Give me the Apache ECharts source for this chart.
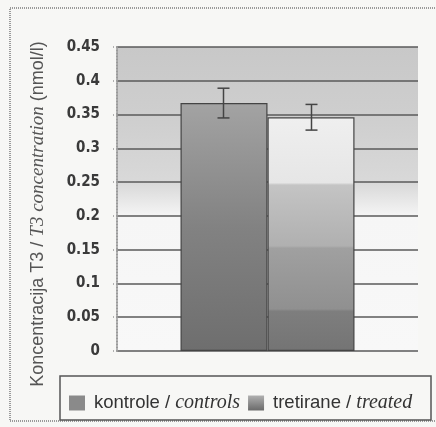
<!DOCTYPE html>
<html>
<head>
<meta charset="utf-8">
<script src="https://cdn.jsdelivr.net/npm/echarts@6/dist/echarts.min.js"></script>
<style>html,body{margin:0;padding:0;background:#f7f7f5;}#c{width:436px;height:427px;}</style>
</head>
<body>
<div id="c"></div>
<script>
const categories = ['T3'];
const seriesNames = ['kontrole', 'tretirane'];
const seriesNamesEn = ['controls', 'treated'];
const meanValues = [0.367, 0.346];
const errorValues = [0.022, 0.019];
const yTicks = [0, 0.05, 0.1, 0.15, 0.2, 0.25, 0.3, 0.35, 0.4, 0.45];

const chart = echarts.init(document.getElementById('c'));
const BAR_W = 87;

const controlsFill = new echarts.graphic.LinearGradient(0, 0, 0, 1, [
  {offset: 0, color: '#a3a3a3'}, {offset: 0.5, color: '#828282'}, {offset: 1, color: '#6e6e6e'}
]);
const treatedFill = new echarts.graphic.LinearGradient(0, 0, 0, 1, [
  {offset: 0, color: '#efefef'}, {offset: 0.28, color: '#e6e6e6'}, {offset: 0.29, color: '#c4c4c4'},
  {offset: 0.55, color: '#b0b0b0'}, {offset: 0.56, color: '#a0a0a0'}, {offset: 0.82, color: '#909090'},
  {offset: 0.83, color: '#7e7e7e'}, {offset: 1, color: '#747474'}
]);
const fills = [controlsFill, treatedFill];
const legendFills = ['#8a8a8a', new echarts.graphic.LinearGradient(0, 0, 0, 1, [
  {offset: 0, color: '#b0b0b0'}, {offset: 1, color: '#6a6a6a'}
])];

const barSeries = seriesNames.map((n, i) => ({
  name: n,
  type: 'bar',
  data: [meanValues[i]],
  barWidth: BAR_W,
  barGap: '0%',
  itemStyle: {color: fills[i], borderColor: '#444', borderWidth: 1.2},
  z: 3
}));

const errData = meanValues.map((m, i) => [0, m, errorValues[i], i]);

const option = {
  animation: false,
  backgroundColor: '#f7f7f5',
  grid: {
    left: 117, right: 18, top: 47, bottom: 76,
    show: true,
    borderWidth: 0,
    backgroundColor: new echarts.graphic.LinearGradient(0, 0, 0, 1, [
      {offset: 0, color: '#c8c8c8'}, {offset: 0.25, color: '#cfcfcf'},
      {offset: 0.45, color: '#d9d9d9'}, {offset: 0.5, color: '#e6e6e6'},
      {offset: 0.56, color: '#f6f6f6'}, {offset: 1, color: '#f8f8f8'}
    ])
  },
  xAxis: {
    type: 'category',
    data: categories,
    axisLine: {show: false},
    axisTick: {show: false},
    axisLabel: {show: false}
  },
  yAxis: {
    type: 'value',
    min: 0, max: 0.45, interval: 0.05,
    axisLine: {show: true, lineStyle: {color: '#9a9a9a', type: [1, 2], width: 2}},
    axisTick: {show: true, length: 5, lineStyle: {color: '#9a9a9a', type: [1, 2], width: 1.5}},
    axisLabel: {
      margin: 17,
      fontFamily: 'Liberation Sans Narrow, DejaVu Sans Condensed, sans-serif',
      fontWeight: 'bold', fontSize: 15, color: '#3a3a3a',
      formatter: v => { const t = yTicks.find(x => Math.abs(x - v) < 1e-9); return t === undefined ? '' : String(t); }
    },
    splitLine: {show: true, lineStyle: {color: '#5a5a5a', width: 1.5}}
  },
  legend: {
    left: 64, top: 388,
    itemWidth: 16, itemHeight: 15,
    itemGap: 8,
    icon: 'rect',
    data: seriesNames.map((n, i) => ({name: n, itemStyle: {color: legendFills[i], borderWidth: 0}})),
    formatter: name => {
      const i = seriesNames.indexOf(name);
      return '{sp| }{n|' + name + ' / }{i|' + seriesNamesEn[i] + '}';
    },
    textStyle: {
      rich: {
        sp: {width: 4, fontSize: 10},
        n: {fontFamily: 'Liberation Sans, Arial, sans-serif', fontSize: 18.5, color: '#333'},
        i: {fontFamily: 'Liberation Serif, Times New Roman, serif', fontStyle: 'italic', fontSize: 20, color: '#333'}
      }
    }
  },
  graphic: [
    {type: 'rect', shape: {x: 10, y: 8, width: 436, height: 413}, style: {fill: 'none', stroke: '#9a9a9a', lineWidth: 2, lineDash: [1, 1]}, silent: true, z: -1},
    {type: 'rect', shape: {x: 60, y: 376, width: 371, height: 44}, style: {fill: 'none', stroke: '#555', lineWidth: 1.5}, silent: true},
    {
      type: 'text', x: 38, y: 214, rotation: Math.PI / 2,
      style: {
        text: '{n|Koncentracija T3 / }{i|T3 concentration}{n| (nmol/l)}',
        align: 'center', verticalAlign: 'middle',
        rich: {
          n: {fontFamily: 'Liberation Sans, Arial, sans-serif', fontSize: 18, fill: '#555'},
          i: {fontFamily: 'Liberation Serif, Times New Roman, serif', fontStyle: 'italic', fontSize: 19, fill: '#555'}
        }
      }
    }
  ],
  series: barSeries.concat([{
    type: 'custom',
    name: 'err',
    data: errData,
    z: 5,
    renderItem: (params, api) => {
      const center = api.coord([api.value(0), api.value(1)]);
      const side = api.value(3) === 0 ? -1 : 1;
      const x = center[0] + side * 44;
      const m = api.value(1), e = api.value(2);
      const top = api.coord([0, m + e])[1];
      const bot = api.coord([0, m - e])[1];
      const c = 6;
      const st = {stroke: '#444', lineWidth: 1.5};
      return {type: 'group', children: [
        {type: 'line', shape: {x1: x, y1: top, x2: x, y2: bot}, style: st},
        {type: 'line', shape: {x1: x - c, y1: top, x2: x + c, y2: top}, style: st},
        {type: 'line', shape: {x1: x - c, y1: bot, x2: x + c, y2: bot}, style: st}
      ]};
    }
  }])
};
chart.setOption(option);
</script>
</body>
</html>
